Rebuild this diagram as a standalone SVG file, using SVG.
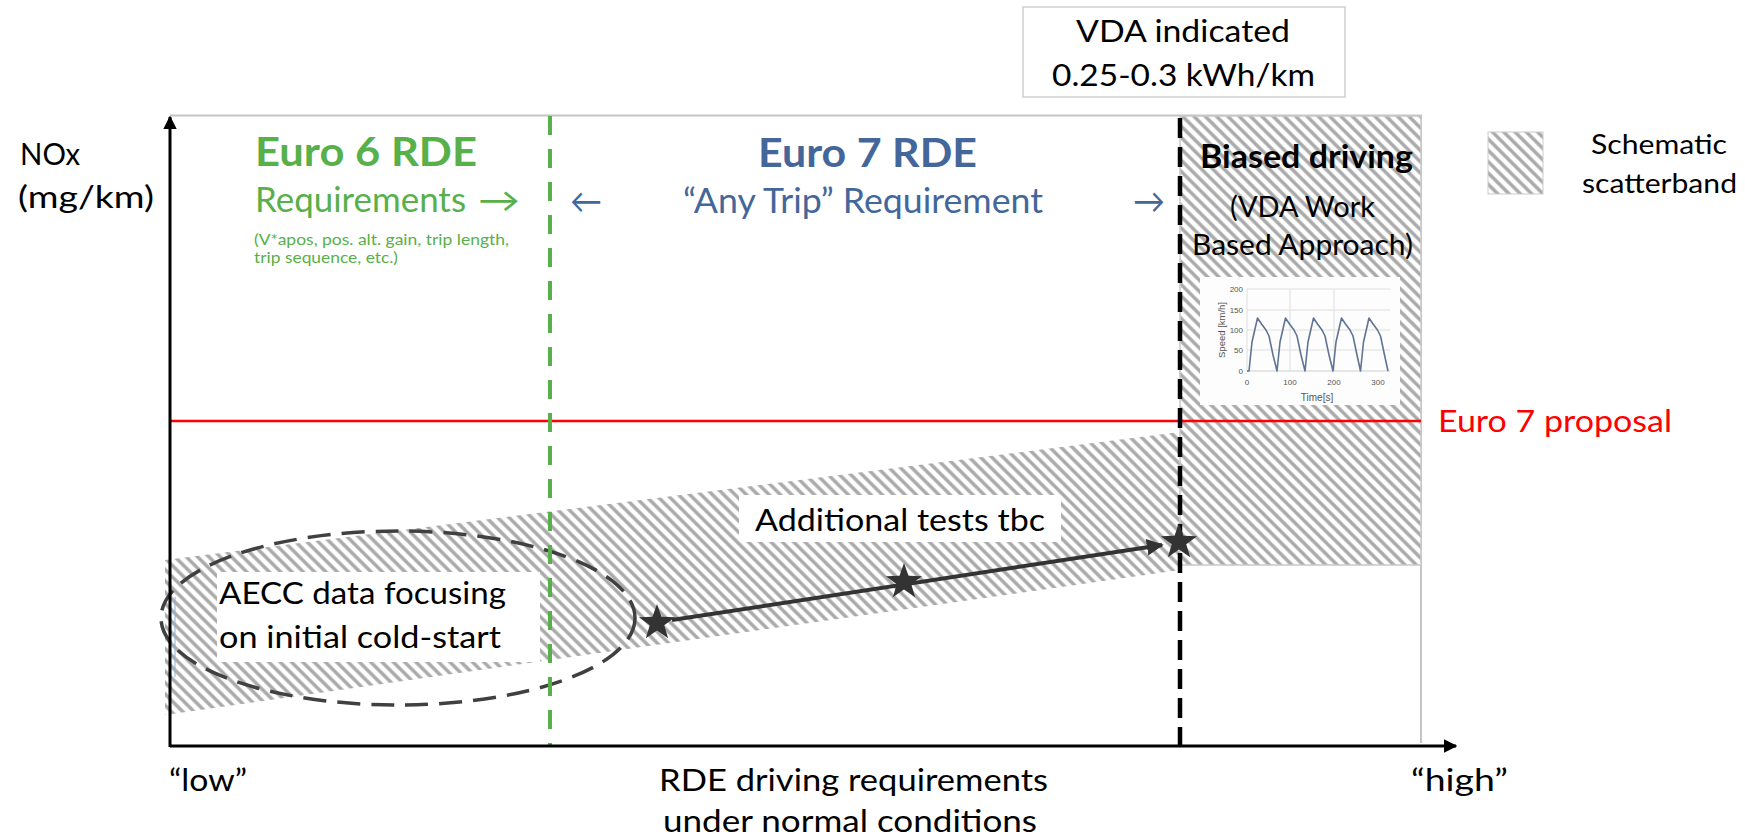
<svg xmlns="http://www.w3.org/2000/svg" width="1745" height="838" viewBox="0 0 1745 838">
<defs>
  <pattern id="hatch" patternUnits="userSpaceOnUse" width="8" height="8" patternTransform="rotate(-45)">
    <rect width="8" height="8" fill="#ffffff"/>
    <line x1="2" y1="0" x2="2" y2="8" stroke="#a8a8a8" stroke-width="3.4"/>
  </pattern>
  <marker id="arrBlack" viewBox="0 0 10 10" refX="9" refY="5" markerWidth="4.5" markerHeight="4.5" orient="auto" markerUnits="strokeWidth">
    <path d="M0,0 L10,5 L0,10 z" fill="#000"/>
  </marker>
  <marker id="arrDark" viewBox="0 0 10 10" refX="9" refY="5" markerWidth="4.2" markerHeight="4.2" orient="auto" markerUnits="strokeWidth">
    <path d="M0,0 L10,5 L0,10 z" fill="#333"/>
  </marker>
  <polygon id="star" points="0,-19 4.47,-6.15 18.07,-5.87 7.23,2.35 11.17,15.37 0,7.6 -11.17,15.37 -7.23,2.35 -18.07,-5.87 -4.47,-6.15" fill="#333333"/>
  <style>
    text { font-family: Lato, "Open Sans", "DejaVu Sans", sans-serif; }
    .green { fill: #58b04a; }
    .blue { fill: #44679b; }
    .blk { fill: #000; }
    .tick { font-family: "Liberation Sans", Arial, sans-serif; font-size: 8px; fill: #555; }
    .grid { stroke: #dedede; stroke-width: 1; }
  </style>
</defs>

<rect width="1745" height="838" fill="#ffffff"/>

<!-- plot frame -->
<g id="frame">
  <polyline points="170,115.5 1421,115.5 1421,743" fill="none" stroke="#c4c4c4" stroke-width="2"/>
</g>

<!-- scatterbands -->
<g id="scatterband">
  <polygon points="165,560 1180,432 1180,570 165,715" fill="url(#hatch)"/>
  <rect x="1180" y="116" width="241" height="449" fill="url(#hatch)" stroke="#c8c8c8" stroke-width="1.5"/>
</g>

<!-- chart inset -->
<g id="speed-chart">
  <rect x="1200" y="277" width="200" height="128" fill="#fdfdfd"/>
  <line class="grid" x1="1247" y1="289" x2="1390" y2="289"/>
  <line class="grid" x1="1247" y1="310" x2="1390" y2="310"/>
  <line class="grid" x1="1247" y1="330" x2="1390" y2="330"/>
  <line class="grid" x1="1247" y1="350" x2="1390" y2="350"/>
  <line class="grid" x1="1247" y1="289" x2="1247" y2="371"/>
  <line class="grid" x1="1290" y1="289" x2="1290" y2="371"/>
  <line class="grid" x1="1334" y1="289" x2="1334" y2="371"/>
  <line x1="1247" y1="371" x2="1390" y2="371" stroke="#cfcfcf" stroke-width="1"/>
  <path d="M1247,371 L1249,371 L1252,342 L1257.5,318 L1261.5,324 L1266,330 L1269,336 L1273,355 L1277,371 L1280,342 L1285.5,318 L1289.5,324 L1294,330 L1297,336 L1301,355 L1305,371 L1308,342 L1313.5,318 L1317.5,324 L1322,330 L1325,336 L1329,355 L1333,371 L1336,342 L1341.5,318 L1345.5,324 L1350,330 L1353,336 L1357,355 L1360.5,371 L1363.5,342 L1369,318 L1373,324 L1377.5,330 L1380.5,336 L1384.5,355 L1388,371" fill="none" stroke="#5f7594" stroke-width="1.6" stroke-linejoin="round"/>
  <text class="tick" x="1243" y="292" text-anchor="end">200</text>
  <text class="tick" x="1243" y="313" text-anchor="end">150</text>
  <text class="tick" x="1243" y="333" text-anchor="end">100</text>
  <text class="tick" x="1243" y="353" text-anchor="end">50</text>
  <text class="tick" x="1243" y="374" text-anchor="end">0</text>
  <text class="tick" x="1247" y="385" text-anchor="middle">0</text>
  <text class="tick" x="1290" y="385" text-anchor="middle">100</text>
  <text class="tick" x="1334" y="385" text-anchor="middle">200</text>
  <text class="tick" x="1378" y="385" text-anchor="middle">300</text>
  <text class="tick" x="1317" y="401" text-anchor="middle" style="font-size:10px">Time[s]</text>
  <text class="tick" transform="translate(1225,330) rotate(-90)" text-anchor="middle" style="font-size:9.5px">Speed [km/h]</text>
</g>

<!-- label boxes -->
<g id="aecc-label">
  <rect x="217" y="572" width="323" height="90" fill="#ffffff"/>
  <text x="219" y="604" font-size="30" textLength="287" lengthAdjust="spacingAndGlyphs" class="blk">AECC data focusing</text>
  <text x="219" y="648" font-size="30" textLength="282" lengthAdjust="spacingAndGlyphs" class="blk">on initial cold-start</text>
</g>
<g id="additional-label">
  <rect x="739" y="495" width="322" height="47" fill="#ffffff"/>
  <text x="755" y="531" font-size="31" textLength="290" lengthAdjust="spacingAndGlyphs" class="blk">Additional tests tbc</text>
</g>

<!-- connectors and lines -->
<g id="connectors">
  <line x1="175" y1="597" x2="175" y2="677" stroke="#8fb0dc" stroke-width="1"/>
  <ellipse cx="398" cy="618" rx="237" ry="87" fill="none" stroke="#404040" stroke-width="3.5" stroke-dasharray="23 11"/>
  <line x1="170" y1="421" x2="1421" y2="421" stroke="#ff0000" stroke-width="2.5"/>
  <line x1="550" y1="116" x2="550" y2="745" stroke="#58b04a" stroke-width="4" stroke-dasharray="19 14"/>
  <line x1="1180" y1="118" x2="1180" y2="745" stroke="#000" stroke-width="4.5" stroke-dasharray="20 9"/>
  <line x1="672" y1="620" x2="1162" y2="545" stroke="#333" stroke-width="4" marker-end="url(#arrDark)"/>
  <line x1="170" y1="747" x2="170" y2="117" stroke="#000" stroke-width="3" marker-end="url(#arrBlack)"/>
  <line x1="170" y1="746" x2="1456" y2="746" stroke="#000" stroke-width="3" marker-end="url(#arrBlack)"/>
</g>

<!-- stars -->
<g id="stars">
  <use href="#star" x="657" y="623"/>
  <use href="#star" x="904" y="582"/>
  <use href="#star" x="1179" y="542"/>
</g>

<!-- axis labels -->
<g id="y-axis-label">
  <text x="20" y="165" font-size="30" textLength="60" lengthAdjust="spacingAndGlyphs" class="blk">NOx</text>
  <text x="18" y="208" font-size="30" textLength="136" lengthAdjust="spacingAndGlyphs" class="blk">(mg/km)</text>
</g>
<g id="x-axis-labels">
  <text x="169" y="791" font-size="31" textLength="78" lengthAdjust="spacingAndGlyphs" class="blk">“low”</text>
  <text x="659" y="791" font-size="31" textLength="389" lengthAdjust="spacingAndGlyphs" class="blk">RDE driving requirements</text>
  <text x="663" y="832" font-size="31" textLength="374" lengthAdjust="spacingAndGlyphs" class="blk">under normal conditions</text>
  <text x="1411" y="791" font-size="31" textLength="97" lengthAdjust="spacingAndGlyphs" class="blk">“high”</text>
</g>

<!-- Euro 6 -->
<g id="euro6">
  <text x="255" y="166" font-size="40" font-weight="bold" textLength="222" lengthAdjust="spacingAndGlyphs" class="green">Euro 6 RDE</text>
  <text x="255" y="212" font-size="34" textLength="211" lengthAdjust="spacingAndGlyphs" class="green">Requirements</text>
  <text x="478" y="212" font-size="34" font-family="DejaVu Sans, sans-serif" textLength="42" lengthAdjust="spacingAndGlyphs" class="green">→</text>
  <text x="254" y="245" font-size="15" textLength="255" lengthAdjust="spacingAndGlyphs" class="green">(V*apos, pos. alt. gain, trip length,</text>
  <text x="254" y="263" font-size="15" textLength="144" lengthAdjust="spacingAndGlyphs" class="green">trip sequence, etc.)</text>
</g>

<!-- Euro 7 -->
<g id="euro7">
  <text x="758" y="167" font-size="40" font-weight="bold" textLength="219" lengthAdjust="spacingAndGlyphs" class="blue">Euro 7 RDE</text>
  <text x="570" y="213" font-size="34" font-family="DejaVu Sans, sans-serif" textLength="32" lengthAdjust="spacingAndGlyphs" class="blue">←</text>
  <text x="683" y="213" font-size="34" textLength="360" lengthAdjust="spacingAndGlyphs" class="blue">“Any Trip” Requirement</text>
  <text x="1133" y="213" font-size="34" font-family="DejaVu Sans, sans-serif" textLength="32" lengthAdjust="spacingAndGlyphs" class="blue">→</text>
</g>

<!-- Biased driving -->
<g id="biased">
  <text x="1200" y="168" font-size="32" font-weight="bold" textLength="213" lengthAdjust="spacingAndGlyphs" class="blk">Biased driving</text>
  <text x="1230" y="217" font-size="28" textLength="145" lengthAdjust="spacingAndGlyphs" class="blk">(VDA Work</text>
  <text x="1192" y="255" font-size="28" textLength="221" lengthAdjust="spacingAndGlyphs" class="blk">Based Approach)</text>
</g>

<!-- VDA box -->
<g id="vda-box">
  <rect x="1023" y="7" width="322" height="90" fill="#ffffff" stroke="#cfcfcf" stroke-width="1.5"/>
  <text x="1076" y="42" font-size="30" textLength="214" lengthAdjust="spacingAndGlyphs" class="blk">VDA indicated</text>
  <text x="1052" y="86" font-size="30" textLength="263" lengthAdjust="spacingAndGlyphs" class="blk">0.25-0.3 kWh/km</text>
</g>

<!-- Euro 7 proposal -->
<g id="euro7-proposal">
  <text x="1438" y="432" font-size="31" textLength="234" lengthAdjust="spacingAndGlyphs" fill="#ff0000">Euro 7 proposal</text>
</g>

<!-- legend -->
<g id="legend">
  <rect x="1488" y="132" width="55" height="62" fill="url(#hatch)" stroke="#cccccc" stroke-width="1"/>
  <text x="1591" y="154" font-size="27" textLength="136" lengthAdjust="spacingAndGlyphs" class="blk">Schematic</text>
  <text x="1582" y="193" font-size="27" textLength="155" lengthAdjust="spacingAndGlyphs" class="blk">scatterband</text>
</g>
</svg>
